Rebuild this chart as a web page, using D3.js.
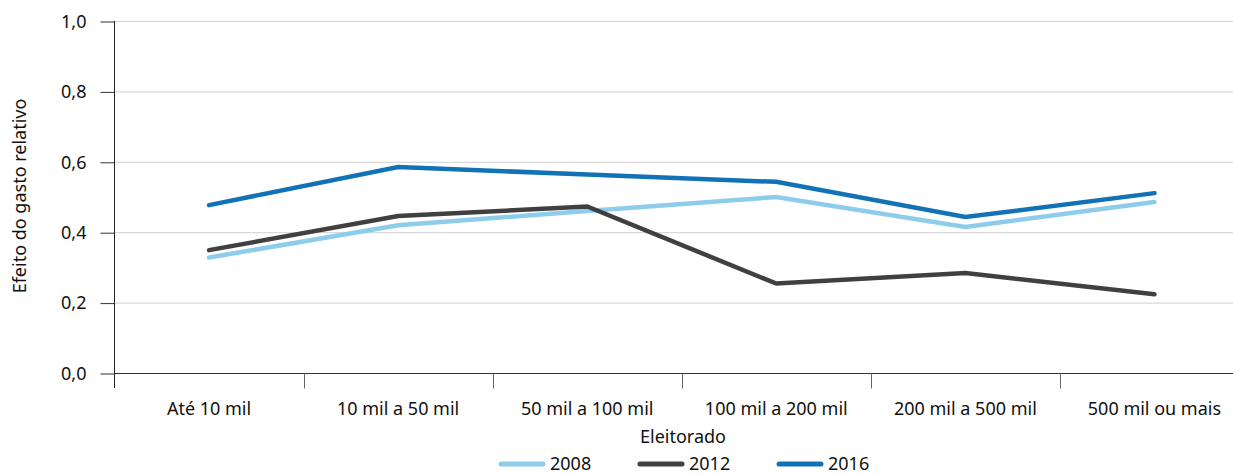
<!DOCTYPE html>
<html><head><meta charset="utf-8">
<script src="https://cdn.jsdelivr.net/npm/d3@7"></script>
<style>body{margin:0;background:#fff}svg{font-family:"Noto Sans","Open Sans",sans-serif}</style>
</head><body>
<svg id="c" width="1233" height="475"></svg>
<script>
const categories = ["Até 10 mil","10 mil a 50 mil","50 mil a 100 mil","100 mil a 200 mil","200 mil a 500 mil","500 mil ou mais"];
const s2008 = [0.328,0.420,0.460,0.500,0.415,0.486];
const s2012 = [0.349,0.446,0.473,0.254,0.284,0.224];
const s2016 = [0.477,0.585,0.564,0.543,0.443,0.511];
const seriesNames = ["2008","2012","2016"];
const colors = ["#8dcdeb","#404040","#1272b6"];
const yTicks = [0,0.2,0.4,0.6,0.8,1.0];

const FS = 18;
const svg = d3.select("#c");
const mLeft = 114.5, mRight = 1249, mTop = 21, mBottom = 373;
const x = d3.scaleBand().domain(categories).range([mLeft,mRight]);
const y = d3.scaleLinear().domain([0,1]).range([mBottom,mTop]);

// gridlines
svg.append("g").selectAll("line").data(yTicks.filter(d=>d>0)).join("line")
  .attr("x1",mLeft).attr("x2",mRight).attr("y1",d=>y(d)+0.5).attr("y2",d=>y(d)+0.5)
  .attr("stroke","#d0d0d0").attr("stroke-width",1);

// y axis
const yAxis = d3.axisLeft(y).tickValues(yTicks).tickSize(14).tickPadding(14)
  .tickFormat(d=>d3.format(".1f")(d).replace(".",","));
const gy = svg.append("g").attr("transform",`translate(${mLeft},0.5)`).call(yAxis);
gy.attr("font-size",FS).attr("font-family",null);
gy.select(".domain").remove();
gy.selectAll(".tick line").attr("stroke","#333");
gy.selectAll("text").attr("fill","#111");
svg.append("line").attr("x1",mLeft).attr("x2",mLeft).attr("y1",mTop).attr("y2",388).attr("stroke","#222");

// x axis
const gx = svg.append("g").attr("transform",`translate(0,${mBottom+0.5})`);
gx.append("line").attr("x1",mLeft).attr("x2",mRight).attr("stroke","#333");
const edges = categories.map(c=>x(c)).concat([mRight]);
gx.selectAll("line.t").data(edges.slice(1)).join("line").attr("class","t")
  .attr("x1",d=>Math.round(d)+0.5).attr("x2",d=>Math.round(d)+0.5).attr("y1",0).attr("y2",15).attr("stroke","#666");
gx.selectAll("text").data(categories).join("text")
  .attr("x",d=>x(d)+x.bandwidth()/2).attr("y",41).attr("text-anchor","middle")
  .attr("font-size",FS).attr("fill","#111").text(d=>d);

// titles
svg.append("text").attr("x",683).attr("y",443).attr("text-anchor","middle").attr("font-size",FS).attr("fill","#111").text("Eleitorado");
svg.append("text").attr("transform","translate(26,196) rotate(-90)").attr("text-anchor","middle").attr("font-size",FS).attr("fill","#111").text("Efeito do gasto relativo");

// lines
const line = d3.line().x((d,i)=>x(categories[i])+x.bandwidth()/2).y(d=>y(d));
[s2008,s2012,s2016].forEach((s,k)=>{
  svg.append("path").datum(s).attr("d",line).attr("fill","none")
    .attr("stroke",colors[k]).attr("stroke-width",4.5).attr("stroke-linecap","round").attr("stroke-linejoin","miter");
});

// legend
const lg = svg.append("g");
const lx = [501,640,779];
seriesNames.forEach((n,k)=>{
  lg.append("line").attr("x1",lx[k]).attr("x2",lx[k]+42).attr("y1",464).attr("y2",464)
    .attr("stroke",colors[k]).attr("stroke-width",5).attr("stroke-linecap","round");
  lg.append("text").attr("x",lx[k]+49).attr("y",470).attr("font-size",FS).attr("fill","#111").text(n);
});
</script>
</body></html>
